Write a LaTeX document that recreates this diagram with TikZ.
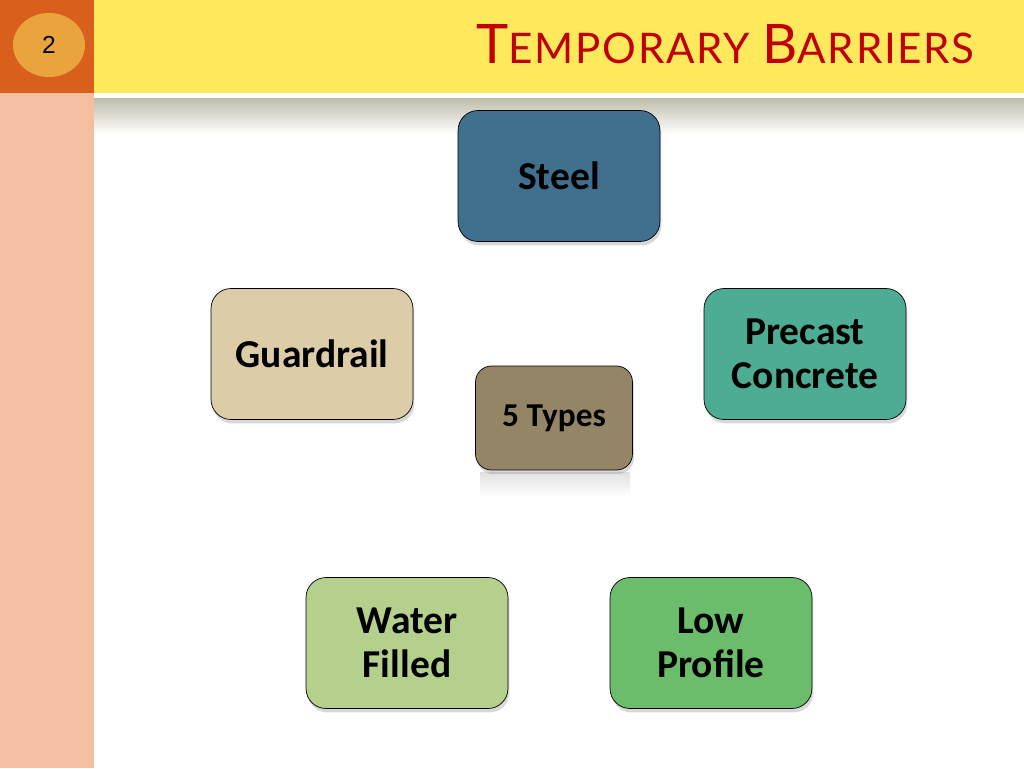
\documentclass[tikz,border=0pt]{standalone}
\usepackage{fontspec}
\setmainfont{Carlito}
\newfontfamily\titlefont[LetterSpace=4]{Lato}
\newfontfamily\numfont{Liberation Sans}
\usetikzlibrary{shadows,shapes.geometric}

\definecolor{sideorange}{HTML}{D9601C}
\definecolor{sidepeach}{HTML}{F4BFA0}
\definecolor{bandyellow}{HTML}{FEE95C}
\definecolor{numdisc}{HTML}{EAA43D}
\definecolor{titlered}{HTML}{C00000}
\definecolor{bandshade}{HTML}{BEBCA9}
\definecolor{steelc}{HTML}{41708F}
\definecolor{guardc}{HTML}{DCCCA8}
\definecolor{precastc}{HTML}{4DAD94}
\definecolor{typesc}{HTML}{938565}
\definecolor{waterc}{HTML}{B5CF8C}
\definecolor{lowc}{HTML}{6BBD6C}

\begin{document}
\begin{tikzpicture}[x=0.02cm, y=-0.02cm,
    tbox/.style={draw=black, thin, rounded corners=0.4cm, align=center,
      minimum width=4.04cm, minimum height=2.62cm,
      font=\bfseries\fontsize{22.5}{25}\selectfont,
      drop shadow={shadow xshift=0.03cm, shadow yshift=-0.08cm, opacity=0.3}}]

    % Slide background and frame
    \fill[white] (0,0) rectangle (1024,768);
    \useasboundingbox (0,0) rectangle (1024,768);
    \fill[sidepeach] (0,93) rectangle (94,768);
    \fill[sideorange] (0,0) rectangle (94,93);
    \fill[bandyellow] (94,0) rectangle (1024,93);
    \shade[top color=bandshade, bottom color=white] (94,98) rectangle (1024,134);

    % Slide number and title
    \node[ellipse, fill=numdisc, minimum width=1.44cm, minimum height=1.28cm,
      font=\numfont\fontsize{14}{14}\selectfont] (num) at (49,45) {2};
    \node[anchor=base east, inner sep=0pt, text=titlered, font=\titlefont] (title) at (975,63)
      {\fontsize{31}{31}\selectfont T\fontsize{24}{24}\selectfont EMPORARY\hspace{0.3em}%
       \fontsize{31}{31}\selectfont B\fontsize{24}{24}\selectfont ARRIERS};

    % The five barrier types round the centre
    \node[tbox, fill=steelc] (steel) at (559,176) {Steel};
    \node[tbox, fill=guardc] (guard) at (312,354) {Guardrail};
    \node[tbox, fill=precastc] (precast) at (805,354) {Precast\\Concrete};
    \node[tbox, fill=waterc] (water) at (407,643) {Water\\Filled};
    \node[tbox, fill=lowc] (low) at (711,643) {Low\\Profile};

    % Centre box with its faint reflection
    \shade[top color=black!12, bottom color=white] (480,472) rectangle (630,496);
    \node[tbox, fill=typesc, minimum width=3.14cm, minimum height=2.08cm,
      rounded corners=0.32cm, font=\bfseries\fontsize{19}{22}\selectfont] (types) at (554,418) {5 Types};

\end{tikzpicture}
\end{document}
